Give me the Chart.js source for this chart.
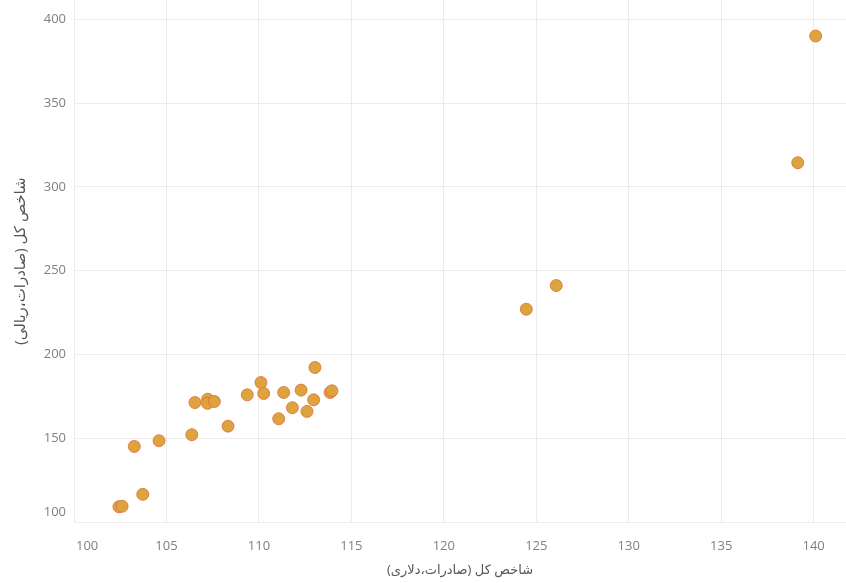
<!DOCTYPE html>
<html>
<head>
<meta charset="utf-8">
<script src="https://cdn.jsdelivr.net/npm/chart.js@4"></script>
<style>
  html, body { margin: 0; padding: 0; background: #ffffff; }
  #wrap { width: 846px; height: 583px; }
</style>
</head>
<body>
<div id="wrap"><canvas id="c" width="846" height="583"></canvas></div>
<script>
// --- Data ---
const dollarIndex = [102.43, 102.60, 103.72, 103.26, 104.60, 106.37, 108.33, 106.54, 107.23, 107.22, 107.59,
                     109.37, 110.11, 110.26, 111.07, 111.34, 111.81, 112.28, 112.60, 112.96, 113.03,
                     113.85, 113.95, 124.46, 126.08, 139.14, 140.11];
const rialIndex   = [109.1, 109.4, 116.5, 145.1, 148.5, 152.1, 157.2, 171.3, 173.3, 170.8, 171.9,
                     175.9, 183.2, 176.7, 161.6, 177.3, 168.2, 178.7, 166.0, 172.9, 192.2,
                     177.3, 178.3, 227.0, 241.1, 314.4, 390.0];
const xTickValues = [100, 105, 110, 115, 120, 125, 130, 135, 140];
const yTickValues = [100, 150, 200, 250, 300, 350, 400];
const xTitle = 'شاخص کل (صادرات،دلاری)';
const yTitle = 'شاخص کل (صادرات،ریالی)';

const points = dollarIndex.map((x, i) => ({ x: x, y: rialIndex[i] }));

const FONT = '"Open Sans", "DejaVu Sans", sans-serif';
const TICK_COLOR = '#808080';
const GRID = '#ececec';

// Draw tick labels Tableau-style (edge labels nudged inside the axis range)
const tickPlugin = {
  id: 'tableauTicks',
  afterDraw(chart) {
    const ctx = chart.ctx;
    const xs = chart.scales.x, ys = chart.scales.y;
    ctx.save();
    ctx.font = '13px ' + FONT;
    ctx.fillStyle = TICK_COLOR;
    ctx.textBaseline = 'middle';
    ctx.textAlign = 'left';
    xs.ticks.forEach(t => {
      const label = String(t.value);
      const px = xs.getPixelForValue(t.value);
      const w = ctx.measureText(label).width;
      let left = px - w / 2;
      if (left < xs.left + 2) left = xs.left + 2;
      if (left + w > xs.right - 2) left = xs.right - 2 - w;
      ctx.fillText(label, left, xs.top + 24);
    });
    ctx.textAlign = 'right';
    ys.ticks.forEach(t => {
      const label = String(t.value);
      let py = ys.getPixelForValue(t.value);
      if (py > ys.bottom - 10) py = ys.bottom - 10;
      if (py < ys.top + 8) py = ys.top + 8;
      ctx.fillText(label, ys.right - 8, py);
    });
    ctx.restore();
  }
};

new Chart(document.getElementById('c'), {
  type: 'scatter',
  data: {
    datasets: [{
      data: points,
      backgroundColor: '#DDA43D',
      borderColor: 'rgba(224,112,66,0.85)',
      borderWidth: 1,
      pointRadius: 6,
      pointHoverRadius: 6
    }]
  },
  options: {
    responsive: false,
    animation: false,
    layout: { padding: 0, autoPadding: false },
    plugins: {
      legend: { display: false },
      tooltip: { enabled: false }
    },
    scales: {
      x: {
        type: 'linear',
        min: 100,
        max: 141.75,
        afterFit(scale) { scale.height = 61; scale.paddingLeft = 0; scale.paddingRight = 0; },
        afterBuildTicks(scale) { scale.ticks = xTickValues.map(v => ({ value: v })); },
        grid: { color: GRID, lineWidth: 1, drawTicks: false },
        border: { color: GRID },
        ticks: { color: 'rgba(0,0,0,0)', font: { size: 13, family: FONT } },
        title: {
          display: true,
          text: xTitle,
          color: '#555',
          font: { size: 13, family: FONT },
          padding: { top: 0, bottom: 5 }
        }
      },
      y: {
        type: 'linear',
        min: 100,
        max: 411.5,
        afterFit(scale) { scale.width = 74; scale.paddingTop = 0; scale.paddingBottom = 0; },
        afterBuildTicks(scale) { scale.ticks = yTickValues.map(v => ({ value: v })); },
        grid: { color: GRID, lineWidth: 1, drawTicks: false },
        border: { color: GRID },
        ticks: { color: 'rgba(0,0,0,0)', font: { size: 13, family: FONT } },
        title: {
          display: true,
          text: yTitle,
          color: '#555',
          font: { size: 15, family: FONT },
          padding: { top: 12, bottom: 0 }
        }
      }
    }
  },
  plugins: [tickPlugin]
});
</script>
</body>
</html>
